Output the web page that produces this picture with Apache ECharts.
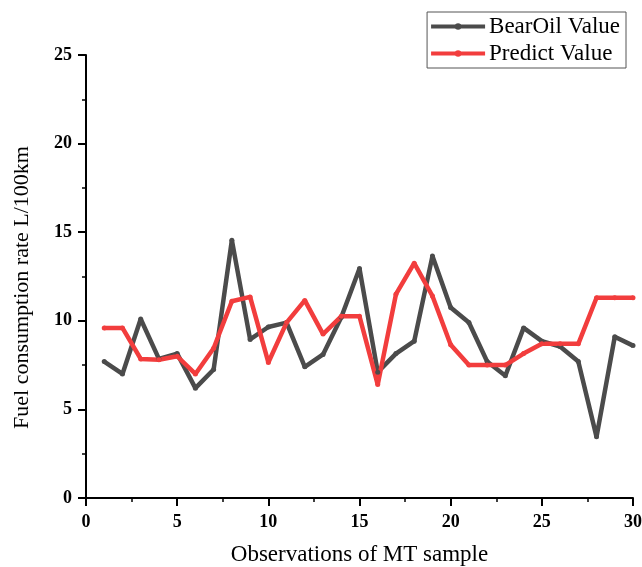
<!DOCTYPE html>
<html><head><meta charset="utf-8">
<script src="https://cdn.jsdelivr.net/npm/echarts@6/dist/echarts.min.js"></script>
<style>html,body{margin:0;padding:0;background:#fff}#c{width:642px;height:567px}</style>
</head><body><div id="c"></div>
<script>
const observations = [1,2,3,4,5,6,7,8,9,10,11,12,13,14,15,16,17,18,19,20,21,22,23,24,25,26,27,28,29,30];
const bearOilValue = [7.7,7.0,10.1,7.85,8.15,6.2,7.25,14.55,8.95,9.65,9.9,7.4,8.1,10.2,12.95,7.1,8.15,8.85,13.65,10.75,9.9,7.7,6.9,9.6,8.85,8.55,7.7,3.45,9.1,8.6];
const predictValue = [9.6,9.6,7.85,7.8,8.0,7.0,8.45,11.1,11.35,7.65,9.9,11.15,9.25,10.25,10.25,6.4,11.5,13.25,11.4,8.65,7.5,7.5,7.5,8.15,8.7,8.7,8.7,11.3,11.3,11.3];
const xTicks = [0,5,10,15,20,25,30];
const yTicks = [0,5,10,15,20,25];

const font = '"Liberation Serif", "Times New Roman", serif';
const chart = echarts.init(document.getElementById('c'));
chart.setOption({
  animation: false,
  backgroundColor: '#fff',
  grid: {left: 86, right: 9, top: 55, bottom: 69, containLabel: false, outerBoundsMode: 'none'},
  legend: {
    right: 16, top: 12, orient: 'vertical',
    borderColor: '#555', borderWidth: 1, padding: [3, 6, 3, 2],
    itemWidth: 54, itemHeight: 8, itemGap: 4,
    lineStyle: {width: 4},
    textStyle: {fontFamily: font, fontSize: 23, color: '#000', padding: [0,0,0,-1]},
    data: ['BearOil Value', 'Predict Value']
  },
  xAxis: {
    type: 'value', min: xTicks[0], max: xTicks[xTicks.length-1], interval: 5,
    name: 'Observations of MT sample', nameLocation: 'middle', nameGap: 45,
    nameTextStyle: {fontFamily: font, fontSize: 23, color: '#000'},
    axisLine: {show: true, lineStyle: {color: '#000', width: 2}},
    axisTick: {show: true, inside: false, length: 8, lineStyle: {color: '#000', width: 2}},
    minorTick: {show: true, splitNumber: 2, length: 4, lineStyle: {color: '#000', width: 1.5}},
    axisLabel: {fontFamily: font, fontSize: 18, fontWeight: 'bold', color: '#000', margin: 15},
    splitLine: {show: false}
  },
  yAxis: {
    type: 'value', min: yTicks[0], max: yTicks[yTicks.length-1], interval: 5,
    name: 'Fuel consumption rate L/100km', nameLocation: 'middle', nameGap: 53, nameRotate: 90,
    nameTextStyle: {fontFamily: font, fontSize: 22, color: '#000', padding: [0, 22, 0, 0]},
    axisLine: {show: true, lineStyle: {color: '#000', width: 2}},
    axisTick: {show: true, inside: false, length: 8, lineStyle: {color: '#000', width: 2}},
    minorTick: {show: true, splitNumber: 2, length: 4, lineStyle: {color: '#000', width: 1.5}},
    axisLabel: {fontFamily: font, fontSize: 18, fontWeight: 'bold', color: '#000', margin: 14},
    splitLine: {show: false}
  },
  series: [
    {
      name: 'BearOil Value', type: 'line',
      data: observations.map((x, i) => [x, bearOilValue[i]]),
      symbol: 'circle', symbolSize: 5,
      lineStyle: {color: '#4b4b4b', width: 4.5},
      itemStyle: {color: '#4b4b4b'}
    },
    {
      name: 'Predict Value', type: 'line',
      data: observations.map((x, i) => [x, predictValue[i]]),
      symbol: 'circle', symbolSize: 5,
      lineStyle: {color: '#f23d3d', width: 4.5},
      itemStyle: {color: '#f23d3d'}
    }
  ]
});
</script></body></html>
